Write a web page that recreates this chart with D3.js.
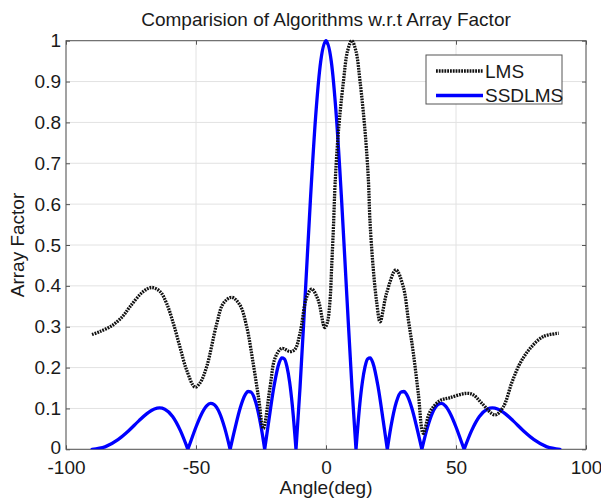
<!DOCTYPE html>
<html>
<head>
<meta charset="utf-8">
<script src="https://cdn.jsdelivr.net/npm/d3@7"></script>
<style>
  html, body { margin: 0; padding: 0; background: #fff; }
  svg { display: block; font-family: Arial, "Liberation Sans", sans-serif; }
</style>
</head>
<body>
<svg id="chart" width="601" height="500"></svg>
<script>
// ---------- data ----------
const chartTitle = "Comparision of Algorithms w.r.t Array Factor";
const xLabel = "Angle(deg)";
const yLabel = "Array Factor";
const seriesNames = ["LMS", "SSDLMS"];
const xTicks = [-100, -50, 0, 50, 100];
const yTicks = [0, 0.1, 0.2, 0.3, 0.4, 0.5, 0.6, 0.7, 0.8, 0.9, 1];

// LMS (black dotted)
const lmsAngles = [-90, -87, -82, -78, -75.4, -70.3, -67, -63.8, -61.3, -58.7, -56.2, -53.6, -50.4,
  -48.5, -45.9, -42, -39.5, -36.3, -33.1, -30.5, -28, -26, -24.1, -21.5, -19.6, -17, -13.8, -11.9,
  -10, -7.4, -5.5, -3, -0.5, 0.5, 1.5, 2.2, 2.9, 3.5, 4.8, 6.7, 8.3, 9.9, 11.5, 13.1, 15, 16.3,
  16.9, 18.2, 19.5, 20.8, 23.3, 26.9, 29.7, 31.7, 33.6, 35.5, 37.4, 40, 43.8, 47.5, 54.1, 56.7,
  59.9, 65, 68.2, 71.4, 74.6, 78.5, 83.6, 89.5];
const lmsValues = [0.281, 0.288, 0.304, 0.327, 0.349, 0.386, 0.396, 0.386, 0.357, 0.308, 0.251, 0.194, 0.152,
  0.162, 0.202, 0.308, 0.357, 0.372, 0.353, 0.300, 0.210, 0.129, 0.051, 0.153, 0.223, 0.247, 0.239, 0.245,
  0.284, 0.373, 0.392, 0.365, 0.298, 0.310, 0.360, 0.450, 0.550, 0.650, 0.780, 0.900, 0.975, 1.000, 0.975, 0.900, 0.780, 0.660,
  0.560, 0.440, 0.360, 0.312, 0.382, 0.439, 0.398, 0.316, 0.235, 0.137, 0.039, 0.092, 0.119, 0.126, 0.137, 0.133,
  0.113, 0.084, 0.104, 0.162, 0.210, 0.247, 0.276, 0.284];

// SSDLMS (blue solid)
const ssdAngles = [-90, -85, -80, -76, -72, -69, -66, -64, -62, -59, -56, -53.13,
  -52, -50, -48, -46, -44.4, -43, -41, -39, -36.87,
  -35, -33, -31, -30, -29, -27, -25, -23.58,
  -22, -20, -18, -17, -16, -15, -14, -13, -11.54,
  -10, -8, -6, -4, -2, 0, 2, 4, 6, 8, 10, 11.54,
  13, 14, 15, 16, 17, 18, 20, 22, 23.58,
  25, 27, 29, 30, 31, 33, 35, 36.87,
  39, 41, 43, 44.4, 46, 48, 50, 52, 53.13,
  56, 59, 62, 64, 66, 69, 72, 76, 80, 85, 90];
const ssdValues = [0, 0.006, 0.0237, 0.045, 0.0696, 0.0868, 0.0986, 0.1012, 0.0981, 0.0803, 0.0457, 0,
  0.0198, 0.0546, 0.0846, 0.1055, 0.1122, 0.1094, 0.0899, 0.0531, 0,
  0.0514, 0.1012, 0.1344, 0.1414, 0.1408, 0.1146, 0.0564, 0,
  0.0701, 0.1544, 0.2122, 0.2239, 0.2212, 0.2018, 0.165, 0.1105, 0,
  0.150, 0.377, 0.610, 0.813, 0.951, 1, 0.951, 0.813, 0.610, 0.377, 0.150, 0,
  0.1105, 0.165, 0.2018, 0.2212, 0.2239, 0.2122, 0.1544, 0.0701, 0,
  0.0564, 0.1146, 0.1408, 0.1414, 0.1344, 0.1012, 0.0514, 0,
  0.0531, 0.0899, 0.1094, 0.1122, 0.1055, 0.0846, 0.0546, 0.0198, 0,
  0.0457, 0.0803, 0.0981, 0.1012, 0.0986, 0.0868, 0.0696, 0.045, 0.0237, 0.006, 0];

// ---------- layout ----------
const svg = d3.select("#chart");
const L = 66, R = 586, T = 40.7, B = 449.3;
const x = d3.scaleLinear().domain([-100, 100]).range([L, R]);
const y = d3.scaleLinear().domain([0, 1]).range([B, T]);
const axisColor = "#555";
const textColor = "#1a1a1a";
const fs = 19;

svg.append("rect").attr("width", 601).attr("height", 500).attr("fill", "#fff");

// grid
const grid = svg.append("g").attr("stroke", "#e2e2e2").attr("stroke-width", 1);
xTicks.forEach(t => grid.append("line").attr("x1", x(t)).attr("x2", x(t)).attr("y1", T).attr("y2", B));
yTicks.forEach(t => grid.append("line").attr("x1", L).attr("x2", R).attr("y1", y(t)).attr("y2", y(t)));

// axes
const fmtX = d => String(d);
const fmtY = d => d === 0 ? "0" : d === 1 ? "1" : d.toFixed(1);
const axB = svg.append("g").attr("transform", `translate(0,${B})`)
  .call(d3.axisBottom(x).tickValues(xTicks).tickFormat(fmtX).tickSizeInner(-4).tickSizeOuter(0).tickPadding(11));
const axL = svg.append("g").attr("transform", `translate(${L},0)`)
  .call(d3.axisLeft(y).tickValues(yTicks).tickFormat(fmtY).tickSizeInner(-4).tickSizeOuter(0).tickPadding(5));
const axT = svg.append("g").attr("transform", `translate(0,${T})`)
  .call(d3.axisTop(x).tickValues(xTicks).tickFormat("").tickSizeInner(-4).tickSizeOuter(0));
const axR = svg.append("g").attr("transform", `translate(${R},0)`)
  .call(d3.axisRight(y).tickValues(yTicks).tickFormat("").tickSizeInner(-4).tickSizeOuter(0));
[axB, axL, axT, axR].forEach(g => {
  g.select(".domain").remove();
  g.selectAll("line").attr("stroke", axisColor);
  g.selectAll("text").attr("font-size", fs).attr("fill", textColor)
    .attr("font-family", "Arial, 'Liberation Sans', sans-serif");
});
// nudge the "0" y-label slightly up so it doesn't collide with "-100"
axL.selectAll(".tick text").filter(d => d === 0).attr("dy", "0.22em");
svg.append("rect").attr("x", L).attr("y", T).attr("width", R - L).attr("height", B - T)
  .attr("fill", "none").attr("stroke", axisColor).attr("stroke-width", 1);

// clip
svg.append("clipPath").attr("id", "clip").append("rect")
  .attr("x", L).attr("y", T - 3).attr("width", R - L).attr("height", B - T + 3);

// SSDLMS: split into lobes at nulls
const ssdPts = ssdAngles.map((a, i) => [a, ssdValues[i]]);
const segs = []; let cur = [];
ssdPts.forEach(p => { cur.push(p); if (p[1] === 0 && cur.length > 1) { segs.push(cur); cur = [p]; } });
if (cur.length > 1) segs.push(cur);
const lobeLine = d3.line().x(d => x(d[0])).y(d => y(d[1])).curve(d3.curveMonotoneX);

const lmsPts = lmsAngles.map((a, i) => [a, lmsValues[i]]);
const lmsLine = d3.line().x(d => x(d[0])).y(d => y(d[1])).curve(d3.curveCatmullRom.alpha(0.5));

const plot = svg.append("g").attr("clip-path", "url(#clip)");
plot.append("path").attr("d", segs.map(s => lobeLine(s)).join(""))
  .attr("fill", "none").attr("stroke", "#0000ff").attr("stroke-width", 3.3)
  .attr("stroke-linejoin", "round").attr("stroke-linecap", "round");
plot.append("path").attr("d", lmsLine(lmsPts))
  .attr("fill", "none").attr("stroke", "#111").attr("stroke-width", 3.3)
  .attr("stroke-dasharray", "1.8,1");

// title & labels
svg.append("text").attr("x", 326).attr("y", 26).attr("text-anchor", "middle")
  .attr("font-size", fs).attr("fill", textColor).text(chartTitle);
svg.append("text").attr("x", 326).attr("y", 494).attr("text-anchor", "middle")
  .attr("font-size", fs).attr("fill", textColor).text(xLabel);
svg.append("text").attr("transform", `translate(24,${(T + B) / 2}) rotate(-90)`)
  .attr("text-anchor", "middle").attr("font-size", fs).attr("fill", textColor).text(yLabel);

// legend
const lg = svg.append("g");
lg.append("rect").attr("x", 426).attr("y", 55).attr("width", 136).attr("height", 49)
  .attr("fill", "#fff").attr("stroke", axisColor).attr("stroke-width", 1);
const legendStyles = [
  { stroke: "#111", dash: "1.8,1", w: 3.3 },
  { stroke: "#0000ff", dash: null, w: 3.3 }
];
seriesNames.forEach((name, i) => {
  const ly = 71 + i * 24.5;
  lg.append("line").attr("x1", 436).attr("x2", 483).attr("y1", ly).attr("y2", ly)
    .attr("stroke", legendStyles[i].stroke).attr("stroke-width", legendStyles[i].w)
    .attr("stroke-dasharray", legendStyles[i].dash);
  lg.append("text").attr("x", 485).attr("y", ly + 6.5).attr("font-size", fs)
    .attr("fill", textColor).text(name);
});
</script>
</body>
</html>
